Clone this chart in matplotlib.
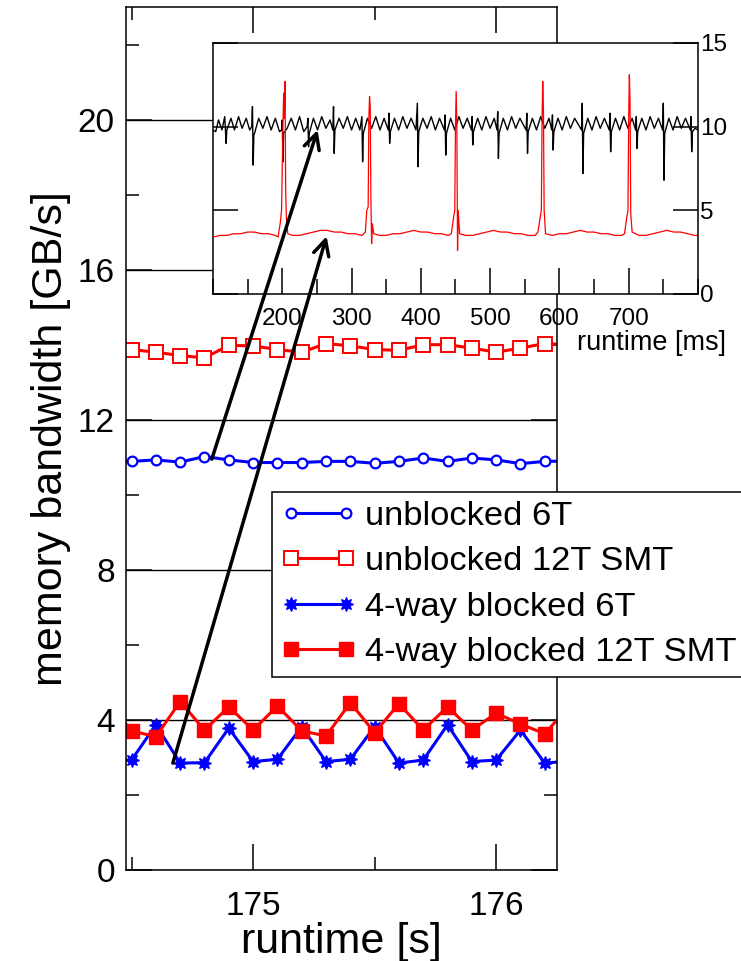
import matplotlib
matplotlib.use('Agg')
import matplotlib.pyplot as plt
from matplotlib.ticker import MultipleLocator
from matplotlib.patches import ConnectionPatch

plt.rcParams['font.family'] = ['Liberation Sans', 'DejaVu Sans']

# main plot: bandwidth vs runtime [s]
runtime_s = [174.4, 174.5, 174.6, 174.7, 174.8, 174.9, 175.0, 175.1, 175.2, 175.3,
             175.4, 175.5, 175.6, 175.7, 175.8, 175.9, 176.0, 176.1, 176.2, 176.3]
unblocked_6T = [10.90, 10.89, 10.93, 10.87, 11.02, 10.93, 10.86, 10.86, 10.86, 10.89,
                10.89, 10.84, 10.89, 10.98, 10.89, 10.98, 10.93, 10.83, 10.89, 10.90]
unblocked_12T = [13.90, 13.87, 13.80, 13.71, 13.65, 13.98, 13.97, 13.87, 13.80, 14.03,
                 13.97, 13.87, 13.85, 14.00, 14.00, 13.91, 13.80, 13.91, 14.03, 14.00]
blocked_6T = [2.93, 2.93, 3.87, 2.85, 2.86, 3.78, 2.89, 2.95, 3.82, 2.89,
              2.95, 3.82, 2.85, 2.93, 3.87, 2.89, 2.93, 3.73, 2.85, 2.90]
blocked_12T = [4.50, 3.71, 3.55, 4.49, 3.73, 4.35, 3.73, 4.37, 3.71, 3.57,
               4.46, 3.66, 4.43, 3.73, 4.35, 3.73, 4.18, 3.89, 3.63, 4.37]
labels = ['unblocked 6T', 'unblocked 12T SMT', '4-way blocked 6T', '4-way blocked 12T SMT']

# inset: bandwidth vs runtime [ms]
ms_black = [100, 104, 108, 113, 117, 118, 119, 120, 126, 131, 137, 142, 148, 153, 156, 157, 158, 159,
            160, 166, 172, 178, 184, 190, 196, 199, 200, 201, 202, 207, 213, 219, 225, 231, 236, 237,
            238, 239, 245, 251, 257, 263, 269, 273, 274, 275, 276, 282, 288, 294, 300, 306, 312, 315,
            316, 317, 323, 329, 335, 341, 347, 353, 354, 355, 356, 362, 368, 374, 380, 386, 393, 395,
            396, 397, 403, 409, 415, 421, 427, 434, 435, 436, 437, 443, 449, 455, 461, 467, 473, 474,
            475, 476, 482, 488, 494, 500, 506, 510, 511, 512, 513, 519, 525, 531, 537, 543, 552, 553,
            554, 555, 561, 567, 573, 579, 585, 589, 590, 591, 592, 598, 604, 610, 616, 622, 632, 633,
            634, 635, 641, 647, 653, 659, 665, 672, 673, 674, 675, 681, 687, 693, 699, 705, 710, 711,
            712, 713, 719, 725, 731, 737, 743, 749, 750, 751, 752, 758, 764, 770, 776, 782, 789, 790,
            791, 792, 796, 800]
bw_black = [9.8, 9.7, 10.4, 9.8, 10.6, 9.8, 9.0, 9.8, 10.5, 9.8, 10.6, 9.9, 10.5, 9.8, 10.0, 11.2, 7.7, 9.5,
            9.6, 10.5, 9.9, 10.6, 9.8, 10.5, 9.7, 9.8, 10.4, 7.9, 9.6, 9.9, 10.5, 9.8, 10.6, 9.7, 10.0, 10.5,
            8.8, 9.6, 10.5, 9.8, 10.6, 9.9, 10.4, 9.8, 11.2, 8.4, 9.8, 10.5, 9.9, 10.6, 9.8, 10.5, 9.8, 10.6,
            7.9, 9.6, 10.5, 9.9, 10.6, 9.8, 10.5, 9.8, 10.8, 9.0, 9.7, 10.5, 9.8, 10.6, 9.9, 10.5, 9.8, 11.4,
            7.6, 9.7, 10.5, 9.9, 10.6, 9.8, 10.5, 9.8, 10.7, 8.3, 9.6, 10.5, 9.8, 10.6, 9.9, 10.5, 9.8, 10.6,
            8.9, 9.7, 10.5, 9.8, 10.6, 9.9, 10.5, 9.8, 10.9, 8.1, 9.6, 10.5, 9.8, 10.6, 9.9, 10.5, 9.8, 10.8,
            8.4, 9.7, 10.5, 9.8, 10.6, 9.9, 10.5, 9.8, 10.7, 8.6, 9.7, 10.5, 9.8, 10.6, 9.9, 10.5, 9.8, 11.4,
            7.2, 9.6, 10.5, 9.8, 10.6, 9.9, 10.5, 9.8, 10.8, 8.5, 9.7, 10.5, 9.8, 10.6, 9.9, 10.5, 9.8, 10.6,
            8.7, 9.7, 10.5, 9.8, 10.6, 9.9, 10.5, 9.8, 11.4, 6.8, 9.6, 10.5, 9.8, 10.6, 9.9, 10.5, 9.8, 10.6,
            8.5, 9.7, 9.9, 9.8]
ms_red = [100, 110, 120, 130, 140, 150, 160, 170, 180, 190, 194, 197, 199, 201, 202, 203, 204, 205, 206, 208,
          215, 225, 235, 245, 255, 265, 275, 285, 295, 305, 315, 320, 322, 324, 325, 326, 327, 328, 329, 330,
          332, 340, 350, 360, 370, 380, 390, 400, 410, 420, 430, 440, 444, 447, 449, 450, 451, 452, 453, 454,
          456, 465, 475, 485, 495, 505, 515, 525, 535, 545, 555, 565, 569, 572, 574, 575, 576, 577, 578, 580,
          590, 600, 610, 620, 630, 640, 650, 660, 670, 680, 690, 694, 697, 699, 700, 701, 702, 703, 705, 715,
          725, 735, 745, 755, 765, 775, 785, 795, 800]
bw_red = [3.4, 3.5, 3.5, 3.6, 3.6, 3.7, 3.7, 3.6, 3.6, 3.5, 3.4, 4.2, 5.0, 10.0, 12.0, 10.5, 12.7, 6.0, 4.5, 3.6,
          3.5, 3.5, 3.6, 3.7, 3.8, 3.8, 3.7, 3.7, 3.6, 3.6, 3.5, 3.7, 5.0, 5.2, 10.5, 11.8, 11.2, 5.5, 3.0, 4.2,
          3.6, 3.5, 3.5, 3.6, 3.6, 3.7, 3.8, 3.7, 3.7, 3.6, 3.6, 3.5, 3.6, 4.5, 5.0, 10.0, 12.1, 10.2, 2.6, 5.0,
          3.6, 3.5, 3.5, 3.6, 3.7, 3.8, 3.7, 3.7, 3.6, 3.6, 3.5, 3.5, 3.7, 4.5, 5.0, 10.5, 12.7, 11.0, 5.0, 3.6,
          3.5, 3.6, 3.6, 3.7, 3.8, 3.7, 3.7, 3.6, 3.6, 3.5, 3.5, 3.6, 4.5, 5.0, 10.5, 13.1, 11.5, 4.8, 3.7, 3.5,
          3.5, 3.6, 3.7, 3.8, 3.7, 3.7, 3.6, 3.5, 3.5]
inset_xticks = [200, 300, 400, 500, 600, 700]

fig = plt.figure(figsize=(7.41, 9.61), dpi=100)
ax = fig.add_axes([0.1700, 0.0947, 0.5816, 0.8980])

ax.plot(runtime_s, unblocked_6T, color='blue', lw=2.2, marker='o', ms=7, mfc='white', mec='blue', mew=1.6,
        label=labels[0])
ax.plot(runtime_s, unblocked_12T, color='red', lw=2.2, marker='s', ms=10, mfc='white', mec='red', mew=1.4,
        label=labels[1])
ax.plot(runtime_s, blocked_6T, color='blue', lw=2.2, marker=(8, 1, 0), ms=10, mfc='blue', mec='blue',
        label=labels[2])
ax.plot(runtime_s, blocked_12T, color='red', lw=2.2, marker='s', ms=10, mfc='red', mec='red',
        label=labels[3])

ax.set_xlim(174.477, 176.25)
ax.set_ylim(0, 23)
ax.xaxis.set_major_locator(MultipleLocator(1))
ax.xaxis.set_minor_locator(MultipleLocator(0.5))
ax.yaxis.set_major_locator(MultipleLocator(4))
ax.yaxis.set_minor_locator(MultipleLocator(2))
ax.yaxis.grid(True, color='black', lw=1.0)
ax.set_axisbelow(True)
ax.tick_params(which='both', direction='in', top=True, right=True, width=1.1, labelsize=24)
ax.tick_params(which='major', length=19)
ax.tick_params(which='minor', length=9.5)
ax.tick_params(axis='x', pad=15)
ax.tick_params(axis='y', pad=8)
for s in ax.spines.values():
    s.set_linewidth(1.1)
ax.set_xlabel('runtime [s]', fontsize=31, labelpad=0)
ax.set_ylabel('memory bandwidth [GB/s]', fontsize=31, labelpad=5)

leg = ax.legend(loc='upper left', bbox_to_anchor=(272 / 741, 1 - 492 / 961), bbox_transform=fig.transFigure,
                borderaxespad=0, fontsize=24.8, numpoints=2, handlelength=2.2, handletextpad=0.25,
                labelspacing=0.42, borderpad=0.25, fancybox=False, framealpha=1, edgecolor='black')
leg.get_frame().set_linewidth(1.1)

# inset
ax_in = fig.add_axes([0.2874, 0.6941, 0.6545, 0.2612])
ax_in.set_facecolor('white')
ax_in.plot(ms_black, bw_black, color='black', lw=1.0)
ax_in.plot(ms_red, bw_red, color='red', lw=0.9)
ax_in.set_xlim(100, 800)
ax_in.set_ylim(0, 15)
ax_in.set_xticks(inset_xticks)
ax_in.xaxis.set_minor_locator(MultipleLocator(50))
ax_in.yaxis.set_major_locator(MultipleLocator(5))
ax_in.tick_params(which='both', direction='in', top=False, left=True, right=True, labelleft=False,
                  labelright=True, width=1.1, labelsize=17.5)
ax_in.tick_params(axis='x', which='major', length=19, pad=10)
ax_in.tick_params(axis='x', which='minor', length=10.5)
ax_in.tick_params(axis='y', which='major', length=18, pad=1.5)
for s in ax_in.spines.values():
    s.set_linewidth(1.1)
ax_in.set_xlabel('runtime [ms]', fontsize=19.5)
ax_in.xaxis.set_label_coords(0.905, -0.195)
ax_in.xaxis.label.set_va('center')

# arrows from main plot to inset
for xy_main, xy_in in [((174.83, 10.95), (251, 9.8)), ((174.67, 2.85), (264, 3.45))]:
    con = ConnectionPatch(xyA=xy_main, coordsA=ax.transData, xyB=xy_in, coordsB=ax_in.transData,
                          arrowstyle='->,head_length=0.55,head_width=0.28', mutation_scale=20,
                          lw=2.5, color='black')
    fig.add_artist(con)

fig.savefig('out.png', dpi=100)
